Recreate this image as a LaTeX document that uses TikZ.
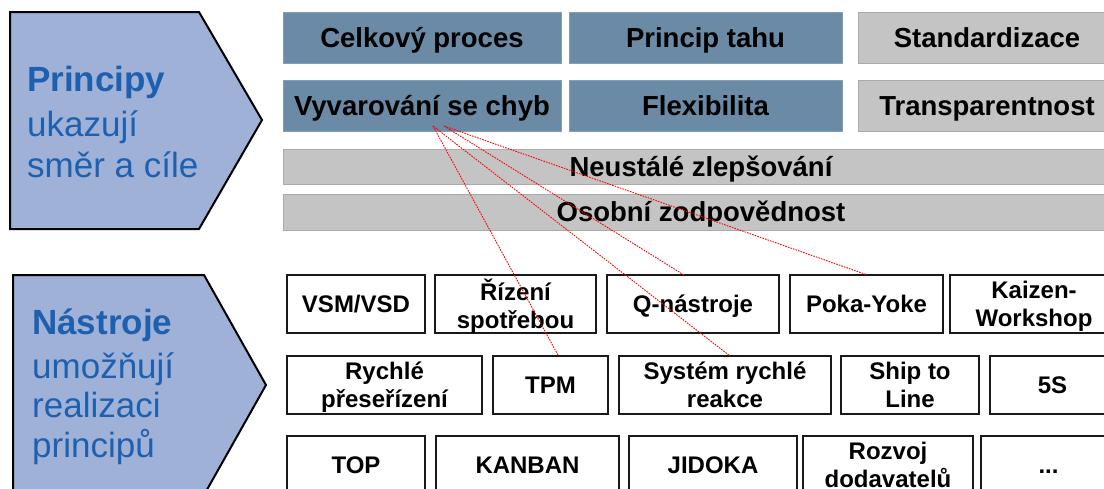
\documentclass[tikz,border=0pt]{standalone}
\usepackage{fontspec}
\setmainfont{Liberation Sans}
\begin{document}
\begin{tikzpicture}[x=1pt,y=-1pt,
  arrowfill/.style={fill=arrowblue, draw=black, line width=2pt, line join=miter},
  headtext/.style={anchor=base west, text=textblue, inner sep=0pt,
    font=\fontsize{35}{40}\selectfont},
  pbox/.style={rectangle, anchor=north west, inner sep=0pt, outer sep=0pt,
    minimum height=51pt, text height=19.6pt, text depth=0pt,
    font=\bfseries\fontsize{27.5}{30}\selectfont},
  darkbox/.style={pbox, fill=darkfill, draw=darkedge, line width=1pt},
  greybox/.style={pbox, fill=greyfill, draw=greyedge, line width=1pt},
  greybar/.style={greybox, minimum width=836pt},
  toolbase/.style={rectangle, anchor=north west, inner sep=0pt, outer sep=0pt,
    minimum height=58pt, fill=white, draw=black!90, line width=2pt,
    align=center, font=\bfseries\fontsize{24}{28}\selectfont},
  toolbox/.style={toolbase, text height=17.2pt, text depth=0pt},
  toolpair/.style={toolbase, text depth=0pt},
  redline/.style={draw=red, line width=0.9pt, dash pattern=on 1.6pt off 1.1pt}
]
\definecolor{arrowblue}{RGB}{159,177,215}
\definecolor{textblue}{RGB}{30,96,176}
\definecolor{darkfill}{RGB}{106,138,165}
\definecolor{darkedge}{RGB}{132,158,180}
\definecolor{greyfill}{RGB}{196,196,196}
\definecolor{greyedge}{RGB}{170,170,170}

\clip (0,0) rectangle (1104,488);

% left arrows
\draw[arrowfill] (10,12) -- (199,12) -- (262,120) -- (199,229) -- (10,229) -- cycle;
\draw[arrowfill] (13,275) -- (204,275) -- (266,385) -- (204,495) -- (13,495) -- cycle;

\node[headtext] (ph1) at (27,91) {\bfseries Principy};
\node[headtext] (ph2) at (27,136) {ukazují};
\node[headtext] (ph3) at (27,177) {směr a cíle};

\node[headtext] (nh1) at (32,334) {\bfseries Nástroje};
\node[headtext] (nh2) at (32,378) {umožňují};
\node[headtext] (nh3) at (32,417) {realizaci};
\node[headtext] (nh4) at (32,457) {principů};

% principles
\node[darkbox, minimum width=278pt] (celk) at (283,12) {Celkový proces};
\node[darkbox, minimum width=273pt] (tah) at (569,12) {Princip tahu};
\node[greybox, minimum width=258pt] (std) at (858,12) {Standardizace};
\node[darkbox, minimum width=278pt] (vyv) at (283,80) {Vyvarování se chyb};
\node[darkbox, minimum width=273pt] (flex) at (569,80) {Flexibilita};
\node[greybox, minimum width=258pt] (trans) at (858,80) {Transparentnost};
\node[greybar] (neu) at (283,149) [minimum height=35pt] {Neustálé zlepšování};
\node[greybar] (oso) at (283,194) [minimum height=36pt] {Osobní zodpovědnost};

% tools, first row
\node[toolbox, minimum width=138pt] (vsm) at (287,275) {VSM/VSD};
\node[toolpair, minimum width=161pt] (riz) at (435,275) {Řízení\\spotřebou};
\node[toolbox, minimum width=172pt] (qn) at (607,275) {Q-nástroje};
\node[toolbox, minimum width=153pt] (poka) at (790,275) {Poka-Yoke};
\node[toolpair, minimum width=168pt] (kai) at (950,275) {Kaizen-\\Workshop};
% second row
\node[toolpair, minimum width=195pt] (ryc) at (287,356) {Rychlé\\přeseřízení};
\node[toolbox, minimum width=115pt] (tpm) at (493,356) {TPM};
\node[toolpair, minimum width=212pt] (sys) at (619,356) {Systém rychlé\\reakce};
\node[toolpair, minimum width=138pt] (ship) at (841,356) {Ship to\\Line};
\node[toolbox, minimum width=125pt] (fives) at (990,356) {5S};
% third row
\node[toolbox, minimum width=138pt] (top) at (287,436) {TOP};
\node[toolbox, minimum width=183pt] (kan) at (436,436) {KANBAN};
\node[toolbox, minimum width=168pt] (jid) at (629,436) {JIDOKA};
\node[toolpair, minimum width=170pt] (roz) at (803,436) {Rozvoj\\dodavatelů};
\node[toolbox, minimum width=135pt] (dots) at (981,436) {...};

% links from error proofing to its tools
\coordinate (o1) at ([xshift=11pt,yshift=5pt]vyv.south);
\coordinate (o2) at ([xshift=22pt,yshift=5pt]vyv.south);
\draw[redline] (o1) -- ([xshift=8pt]tpm.north);
\draw[redline] (o1) -- ([xshift=5pt]sys.north);
\draw[redline] (o2) -- ([xshift=-9pt]qn.north);
\draw[redline] (o2) -- ([xshift=1pt]poka.north);
\end{tikzpicture}
\end{document}
